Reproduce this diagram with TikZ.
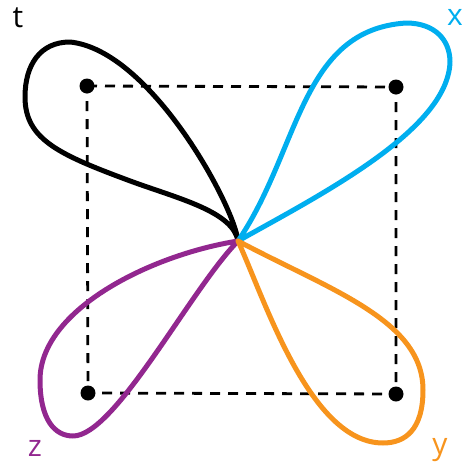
\documentclass[tikz,border=0pt]{standalone}
\usepackage{fontspec}
\setmainfont{Open Sans}
\definecolor{lblue}{HTML}{00AEEF}
\definecolor{lorange}{HTML}{F7941D}
\definecolor{lpurple}{HTML}{92278F}
\begin{document}
\begin{tikzpicture}[x=1pt,y=-1pt,
  dotnode/.style={circle,fill=black,inner sep=0pt,minimum size=15pt},
  sqline/.style={dashed,line width=2.8pt,dash pattern=on 10pt off 8pt},
  petal/.style={line width=5pt,line join=round,line cap=round},
  lbl/.style={font=\fontsize{30}{30}\selectfont,inner sep=0pt}]
\useasboundingbox (0,0) rectangle (466,472);
\node[dotnode] (tl) at (87,86) {};
\node[dotnode] (tr) at (396,87) {};
\node[dotnode] (bl) at (88,393) {};
\node[dotnode] (br) at (396,394) {};
\coordinate (c) at (238,241);
\draw[sqline] (tl.center) -- (tr.center) -- (br.center) -- (bl.center) -- cycle;
% black petal
\draw[petal,black] (c) .. controls (234,205) and (150,50) .. (70,42)
  .. controls (40,42) and (25,65) .. (25,97)
  .. controls (25,140) and (60,155) .. (133,182)
  .. controls (180,199) and (233,212) .. (c);
% blue petal
\draw[petal,lblue] (c) .. controls (300,150) and (300,30) .. (406,23)
  .. controls (435,23) and (450,40) .. (450,62)
  .. controls (448,130) and (320,195) .. (c);
% purple petal
\draw[petal,lpurple] (c) .. controls (150,255) and (40,310) .. (40,380)
  .. controls (40,420) and (55,436) .. (73,436)
  .. controls (115,436) and (190,290) .. (c);
% orange petal
\draw[petal,lorange] (c) .. controls (330,290) and (423,320) .. (423,390)
  .. controls (423,430) and (405,443) .. (383,443)
  .. controls (310,443) and (265,300) .. (c);
\node[lbl,black] (lt) at (18,18) {t};
\node[lbl,lblue] (lx) at (455,17) {x};
\node[lbl,lpurple] (lz) at (35,448) {z};
\node[lbl,lorange] (ly) at (440,450) {y};
\end{tikzpicture}
\end{document}
